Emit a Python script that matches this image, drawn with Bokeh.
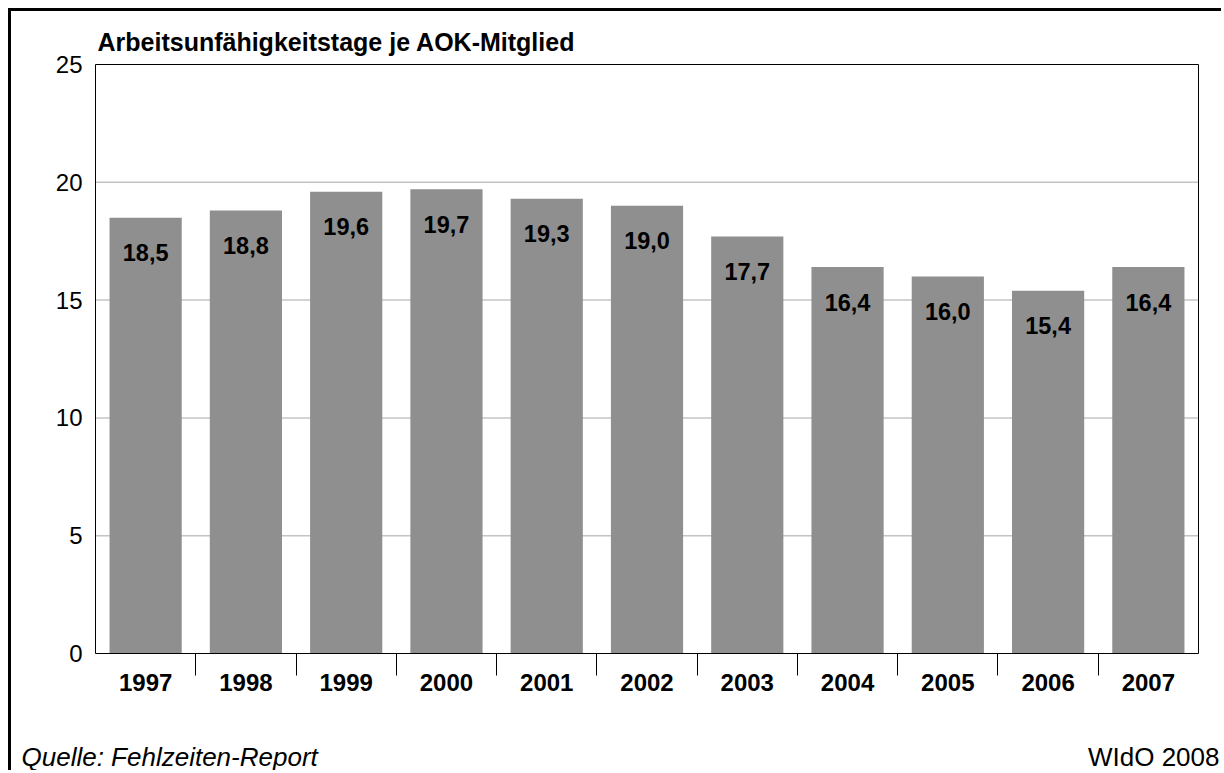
from bokeh.plotting import figure
from bokeh.models import FixedTicker, Label, ColumnDataSource, Range1d
from bokeh.embed import file_html
from bokeh.resources import INLINE
from bokeh.core.properties import value

years = ["1997", "1998", "1999", "2000", "2001", "2002", "2003", "2004", "2005", "2006", "2007"]
days = [18.5, 18.8, 19.6, 19.7, 19.3, 19.0, 17.7, 16.4, 16.0, 15.4, 16.4]
y_ticks = [0, 5, 10, 15, 20, 25]
title_text = "Arbeitsunfähigkeitstage je AOK-Mitglied"
source_text = "Quelle: Fehlzeiten-Report"
credit_text = "WIdO 2008"

FONT = "Liberation Sans"
n = len(years)
xs = list(range(n))
labels = [f"{v:.1f}".replace(".", ",") for v in days]
src = ColumnDataSource(dict(x=xs, y=days, lab=labels))

# canvas geometry (pixels): plot area inside canvas
W, H = 1213, 762
PL, PR, PT, PB = 84, 1187, 53, 642
ymax = y_ticks[-1]
xpx = (PR - PL) / n            # pixels per category
ypx = (PB - PT) / ymax         # pixels per unit
x0, x1 = -0.5, n - 0.5
xr = Range1d(x0 - PL / xpx, x1 + (W - PR) / xpx)
yr = Range1d(-(H - PB) / ypx, ymax + PT / ypx)

p = figure(width=W, height=H, output_backend="svg", toolbar_location=None,
           x_range=xr, y_range=yr,
           min_border_left=0, min_border_top=0, min_border_right=0, min_border_bottom=0)
p.styles = {"margin-left": "8px", "margin-top": "8px",
            "border-left": "3px solid black", "border-top": "3px solid black"}
p.outline_line_color = None
p.background_fill_color = "white"
p.border_fill_color = "white"
p.xgrid.grid_line_color = None
p.ygrid.grid_line_color = None

# horizontal gridlines within the plot area
grid_vals = y_ticks[1:-1]
p.segment(x0=[x0] * len(grid_vals), x1=[x1] * len(grid_vals), y0=grid_vals, y1=grid_vals,
          line_color="#c4c4c4", line_width=1.5)

p.vbar(x="x", top="y", width=0.72, source=src, fill_color="#8f8f8f", line_color=None)
p.text(x="x", y="y", text="lab", source=src, text_align="center", text_baseline="middle",
       y_offset=35, text_font=value(FONT), text_font_style="bold", text_font_size="23.5px",
       text_color="black")

# plot area box
p.quad(left=[x0], right=[x1], bottom=[0], top=[ymax], fill_color=None,
       line_color="black", line_width=1)

# y axis
p.yaxis.fixed_location = x0
p.yaxis.ticker = FixedTicker(ticks=y_ticks)
p.yaxis.axis_line_color = None
p.yaxis.major_tick_line_color = None
p.yaxis.major_tick_out = 0
p.yaxis.major_tick_in = 0
p.yaxis.minor_tick_line_color = None
p.yaxis.major_label_text_font = FONT
p.yaxis.major_label_text_font_size = "24px"
p.yaxis.major_label_text_color = "black"
p.yaxis.major_label_standoff = 13

# x axis
p.xaxis.fixed_location = 0
p.xaxis.ticker = FixedTicker(ticks=xs, minor_ticks=[i + 0.5 for i in xs[:-1]])
p.xaxis.major_label_overrides = {i: y for i, y in enumerate(years)}
p.xaxis.axis_line_color = None
p.xaxis.major_tick_line_color = None
p.xaxis.major_tick_out = 0
p.xaxis.major_tick_in = 0
p.xaxis.minor_tick_line_color = "black"
p.xaxis.minor_tick_line_width = 1
p.xaxis.minor_tick_out = 22
p.xaxis.minor_tick_in = 0
p.xaxis.major_label_text_font = FONT
p.xaxis.major_label_text_font_size = "24px"
p.xaxis.major_label_text_font_style = "bold"
p.xaxis.major_label_text_color = "black"
p.xaxis.major_label_standoff = -2

p.add_layout(Label(x=x0, y=ymax, x_offset=2, y_offset=23, text=title_text,
                   text_font=FONT, text_font_style="bold", text_font_size="25px",
                   text_color="black", text_baseline="alphabetic", text_align="left"))
p.add_layout(Label(x=x0, y=0, x_offset=-74, y_offset=-103, text=source_text,
                   text_font=FONT, text_font_style="italic", text_font_size="26px",
                   text_color="black", text_baseline="alphabetic", text_align="left"))
p.add_layout(Label(x=x1, y=0, x_offset=21, y_offset=-103, text=credit_text,
                   text_font=FONT, text_font_size="26px",
                   text_color="black", text_baseline="alphabetic", text_align="right"))

open("out.html", "w").write(file_html(p, INLINE))
